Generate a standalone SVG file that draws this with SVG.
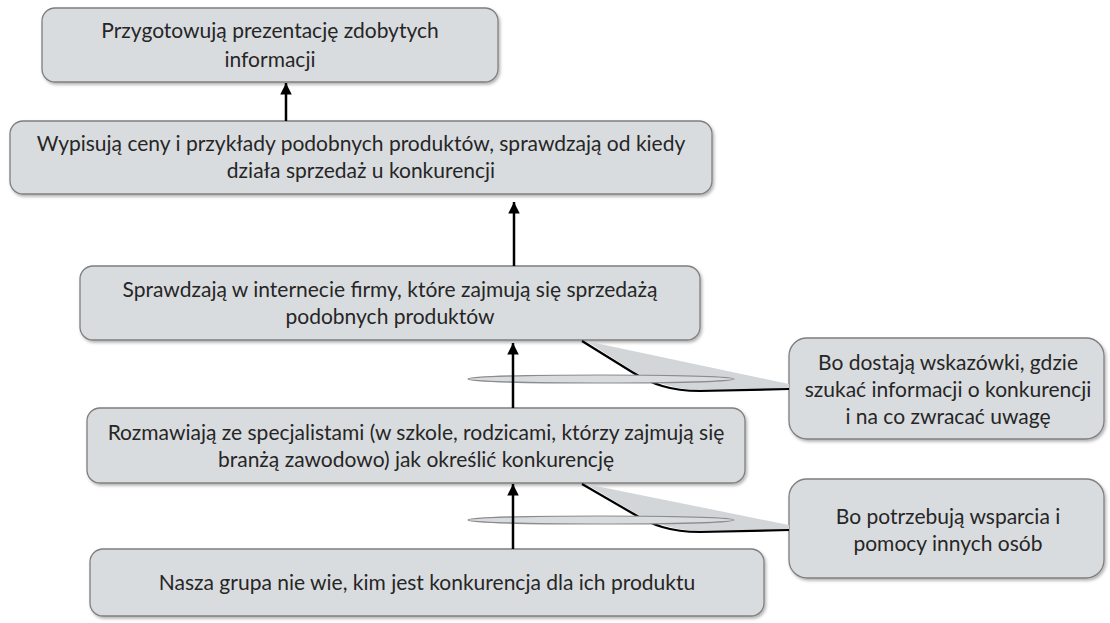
<svg xmlns="http://www.w3.org/2000/svg" width="1110" height="623" viewBox="0 0 1110 623">
  <defs>
    <style>
      .box { fill: #d9dcdf; stroke: #7f7f7f; stroke-width: 1.3; filter: url(#shadow); }
      .lbl { font-family: Lato, "Open Sans", "Liberation Sans", sans-serif; font-size: 21px; fill: #262626; text-anchor: middle; }
      .arrow { stroke: #000; stroke-width: 2.5; fill: none; marker-end: url(#head); }
      .link { stroke: #000; stroke-width: 2.2; fill: none; }
      .wedge { fill: #d3d6d9; stroke: none; }
      .lens { fill: #d9dcdf; stroke: #8c8c8c; stroke-width: 1.2; }
    </style>
    <filter id="shadow" x="-5%" y="-10%" width="110%" height="130%">
      <feDropShadow dx="1.5" dy="2" stdDeviation="1.5" flood-color="#000" flood-opacity="0.3"/>
    </filter>
    <marker id="head" viewBox="0 0 10 10" refX="10" refY="5" markerWidth="4.6" markerHeight="4.6" orient="auto" markerUnits="strokeWidth">
      <path d="M0,0 L10,5 L0,10 Z" fill="#000"/>
    </marker>
  </defs>

  <!-- step boxes -->
  <g id="step-present">
    <rect class="box" x="42" y="8" width="456" height="74" rx="13"/>
    <text class="lbl" x="270" y="38">Przygotowują prezentację zdobytych</text>
    <text class="lbl" x="270" y="67">informacji</text>
  </g>
  <g id="step-prices">
    <rect class="box" x="10" y="121" width="702" height="73" rx="13"/>
    <text class="lbl" x="361" y="151">Wypisują ceny i przykłady podobnych produktów, sprawdzają od kiedy</text>
    <text class="lbl" x="361" y="178">działa sprzedaż u konkurencji</text>
  </g>
  <g id="step-internet">
    <rect class="box" x="80" y="266" width="620" height="74" rx="13"/>
    <text class="lbl" x="390" y="297">Sprawdzają w internecie firmy, które zajmują się sprzedażą</text>
    <text class="lbl" x="390" y="324">podobnych produktów</text>
  </g>
  <g id="step-experts">
    <rect class="box" x="87" y="408" width="658" height="75" rx="13"/>
    <text class="lbl" x="416" y="440">Rozmawiają ze specjalistami (w szkole, rodzicami, którzy zajmują się</text>
    <text class="lbl" x="416" y="467">branżą zawodowo) jak określić konkurencję</text>
  </g>
  <g id="step-start">
    <rect class="box" x="90" y="549" width="674" height="67" rx="13"/>
    <text class="lbl" x="427" y="590">Nasza grupa nie wie, kim jest konkurencja dla ich produktu</text>
  </g>

  <!-- reason callouts -->
  <g id="reason-hints">
    <rect class="box" x="789" y="338" width="315" height="101" rx="18"/>
    <text class="lbl" x="948" y="370">Bo dostają wskazówki, gdzie</text>
    <text class="lbl" x="948" y="397">szukać informacji o konkurencji</text>
    <text class="lbl" x="948" y="424">i na co zwracać uwagę</text>
  </g>
  <g id="reason-support">
    <rect class="box" x="789" y="479" width="315" height="99" rx="18"/>
    <text class="lbl" x="948" y="524">Bo potrzebują wsparcia i</text>
    <text class="lbl" x="948" y="551">pomocy innych osób</text>
  </g>

  <!-- connectors -->
  <g id="connectors">
    <line class="arrow" x1="286" y1="121" x2="286" y2="83"/>
    <line class="arrow" x1="514" y1="266" x2="514" y2="202"/>

    <!-- callout link: hints -->
    <path class="wedge" d="M586,341 L789,384 L789,389 C760,389 715,391 695,390 C668,388 650,380 633,371 Z"/>
    <path class="link" d="M582,341 L632,372 C652,384 670,391 700,391 L789,389"/>
    <ellipse class="lens" cx="601" cy="379" rx="133" ry="4"/>
    <line class="arrow" x1="513" y1="408" x2="513" y2="343"/>

    <!-- callout link: support -->
    <path class="wedge" d="M586,484 L789,525 L789,530 C760,530 715,532 695,531 C668,529 650,521 633,512 Z"/>
    <path class="link" d="M582,484 L632,513 C652,525 670,532 700,532 L789,530"/>
    <ellipse class="lens" cx="601" cy="520" rx="133" ry="4"/>
    <line class="arrow" x1="513" y1="549" x2="513" y2="484"/>
  </g>
</svg>
